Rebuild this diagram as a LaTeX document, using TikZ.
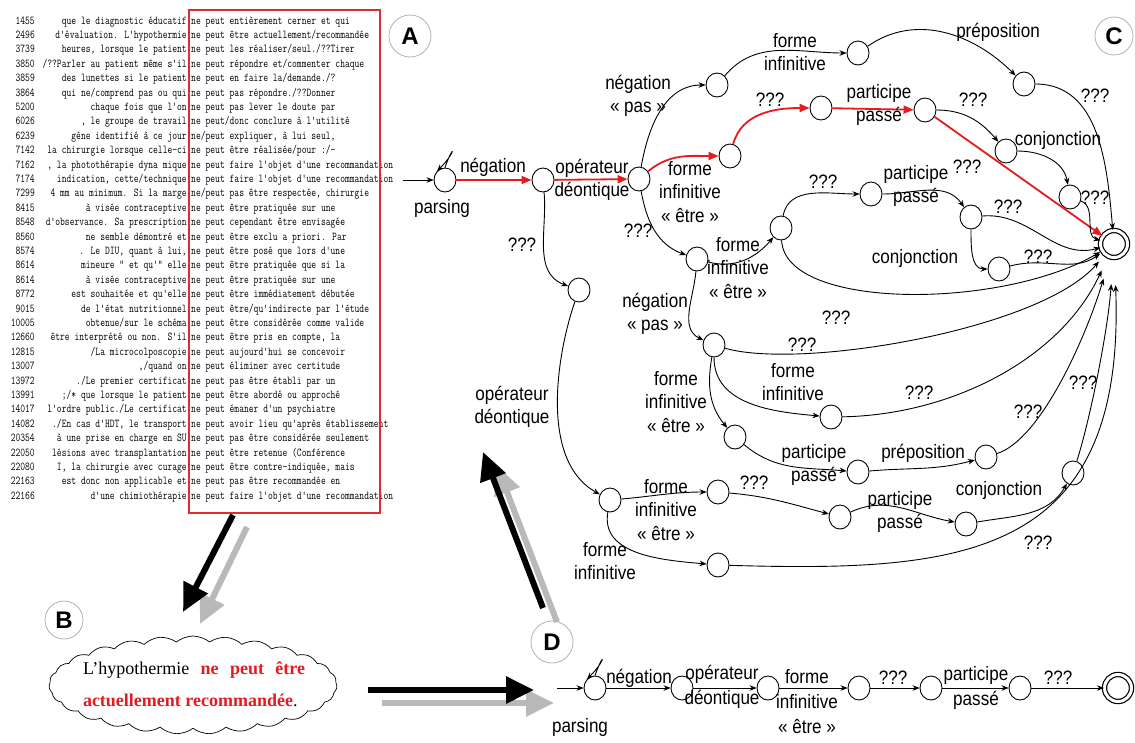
\documentclass[tikz,border=0pt]{standalone}
\usepackage{fontspec}
\setmainfont{Liberation Sans}
\newfontfamily\gfont[FakeStretch=0.88]{Liberation Sans}
\newfontfamily\cloudfont{Liberation Serif}
\usetikzlibrary{arrows.meta,shapes.geometric,shapes.symbols,calc}
\definecolor{cred}{RGB}{228,28,32}
\definecolor{boxred}{RGB}{222,45,50}
\definecolor{shadowgray}{RGB}{185,185,185}
\newcommand\concline[4]{%
  \node[conc, anchor=base east] (num#1) at (35,{-(24+14.4*(#1-1))}) {\scalebox{0.778}[1]{#2}};
  \node[conc, anchor=base east] (lc#1) at (187,{-(24+14.4*(#1-1))}) {\scalebox{0.778}[1]{#3}};
  \node[conc, anchor=base west] (rc#1) at (191,{-(24+14.4*(#1-1))}) {\scalebox{0.778}[1]{#4}};}
\tikzset{
  conc/.style={font=\ttfamily\fontsize{12}{14.4}\selectfont, inner sep=0pt},
  st/.style={ellipse, draw, line width=0.9pt, minimum width=22pt, minimum height=24pt, inner sep=0pt},
  fin/.style={circle, draw, double, double distance=3pt, line width=1.2pt, minimum size=27pt, inner sep=0pt},
  ed/.style={-{Stealth[length=7pt,width=5.5pt]}, line width=0.9pt},
  redge/.style={draw=cred, line width=1.8pt, -{Triangle[length=10pt,width=8pt]}},
  lab/.style={font=\gfont\fontsize{19.4}{23.5}\selectfont, align=center, inner sep=0pt},
  blab/.style={font=\gfont\fontsize{19.4}{25}\selectfont, align=center, inner sep=0pt},
  letter/.style={circle, draw=gray!60, line width=0.8pt, minimum size=40pt, inner sep=0pt, font=\bfseries\fontsize{24}{24}\selectfont},
  bigarrow/.style={line width=6pt, -{Triangle[length=28pt,width=26pt]}}
}
\begin{document}
\begin{tikzpicture}[x=1pt,y=1pt]
\useasboundingbox (0,0) rectangle (1135,-742);
\fill[white] (0,0) rectangle (1135,-742);

% ---------- concordance (A) ----------
\concline{1}{1455}{que le diagnostic éducatif}{ne peut entièrement cerner et qui}
\concline{2}{2496}{d'évaluation. L'hypothermie}{ne peut être actuellement/recommandée}
\concline{3}{3739}{heures, lorsque le patient}{ne peut les réaliser/seul./??Tirer}
\concline{4}{3850}{/??Parler au patient même s'il}{ne peut répondre et/commenter chaque}
\concline{5}{3859}{des lunettes si le patient}{ne peut en faire la/demande./?}
\concline{6}{3864}{qui ne/comprend pas ou qui}{ne peut pas répondre./??Donner}
\concline{7}{5200}{chaque fois que l'on}{ne peut pas lever le doute par}
\concline{8}{6026}{, le groupe de travail}{ne peut/donc conclure à l'utilité}
\concline{9}{6239}{gène identifié à ce jour}{ne/peut expliquer, à lui seul,}
\concline{10}{7142}{la chirurgie lorsque celle-ci}{ne peut être réalisée/pour :/-}
\concline{11}{7162}{, la photothérapie dyna mique}{ne peut faire l'objet d'une recommandation}
\concline{12}{7174}{indication, cette/technique}{ne peut faire l'objet d'une recommandation}
\concline{13}{7299}{4 mm au minimum. Si la marge}{ne/peut pas être respectée, chirurgie}
\concline{14}{8415}{à visée contraceptive}{ne peut être pratiquée sur une}
\concline{15}{8548}{d'observance. Sa prescription}{ne peut cependant être envisagée}
\concline{16}{8560}{ne semble démontré et}{ne peut être exclu a priori. Par}
\concline{17}{8574}{. Le DIU, quant à lui,}{ne peut être posé que lors d'une}
\concline{18}{8614}{mineure " et qu'" elle}{ne peut être pratiquée que si la}
\concline{19}{8614}{à visée contraceptive}{ne peut être pratiquée sur une}
\concline{20}{8772}{est souhaitée et qu'elle}{ne peut être immédiatement débutée}
\concline{21}{9015}{de l'état nutritionnel}{ne peut être/qu'indirecte par l'étude}
\concline{22}{10005}{obtenue/sur le schéma}{ne peut être considérée comme valide}
\concline{23}{12660}{être interprété ou non. S'il}{ne peut être pris en compte, la}
\concline{24}{12815}{/La microcolposcopie}{ne peut aujourd'hui se concevoir}
\concline{25}{13007}{,/quand on}{ne peut éliminer avec certitude}
\concline{26}{13972}{./Le premier certificat}{ne peut pas être établi par un}
\concline{27}{13991}{;/* que lorsque le patient}{ne peut être abordé ou approché}
\concline{28}{14017}{l'ordre public./Le certificat}{ne peut émaner d'un psychiatre}
\concline{29}{14082}{./En cas d'HDT, le transport}{ne peut avoir lieu qu'après établissement}
\concline{30}{20354}{à une prise en charge en SU}{ne peut pas être considérée seulement}
\concline{31}{22050}{lésions avec transplantation}{ne peut être retenue (Conférence}
\concline{32}{22080}{I, la chirurgie avec curage}{ne peut être contre-indiquée, mais}
\concline{33}{22163}{est donc non applicable et}{ne peut pas être recommandée en}
\concline{34}{22166}{d'une chimiothérapie}{ne peut faire l'objet d'une recommandation}
\node[draw=boxred, line width=1.6pt, minimum width=191pt, minimum height=503pt, inner sep=0pt] (cbox) at (284.5,-261.5) {};

% ---------- letters ----------
\node[letter, minimum size=42pt] (A) at (410,-36) {A};
\node[letter, minimum size=38pt] (C) at (1114,-36) {C};
\node[letter, minimum size=38pt] (B) at (64,-620) {B};
\node[letter, minimum size=42pt] (D) at (552,-642) {D};

% ---------- cloud (B) ----------
\node[cloud, draw, line width=0.7pt, cloud puffs=27, cloud puff arc=80, aspect=3.1, minimum width=288pt, minimum height=98pt, inner sep=0pt] (cl) at (193,-685) {};
\node[inner sep=0pt, align=left, font=\cloudfont\fontsize{18}{32}\selectfont] (ct) at (194,-684)
  {\hbox to 222pt{L’hypothermie\hfill\textcolor{cred}{\bfseries ne}\hfill\textcolor{cred}{\bfseries peut}\hfill\textcolor{cred}{\bfseries être}}\\
   \textcolor{cred}{\bfseries actuellement recommandée}.};

% ---------- big arrows ----------
\coordinate (a1s) at (233,-515); \coordinate (a1e) at (183,-612);
\coordinate (g1s) at (247,-527); \coordinate (g1e) at (200,-624);
\coordinate (a2s) at (543,-608); \coordinate (a2e) at (483,-452);
\coordinate (g2s) at (557,-622); \coordinate (g2e) at (497,-466);
\coordinate (a3s) at (368,-690); \coordinate (a3e) at (534,-690);
\coordinate (g3s) at (382,-703); \coordinate (g3e) at (554,-703);
\draw[bigarrow, draw=shadowgray] (g1s) -- (g1e);
\draw[bigarrow] (a1s) -- (a1e);
\draw[bigarrow, draw=shadowgray] (g2s) -- (g2e);
\draw[bigarrow] (a2s) -- (a2e);
\draw[bigarrow, draw=shadowgray] (g3s) -- (g3e);
\draw[bigarrow] (a3s) -- (a3e);

% ---------- graph C: states ----------
\node[st] (P) at (445,-180) {};
\node[st] (N1) at (543,-180) {};
\node[st] (N2) at (639,-179) {};
\node[st] (T1) at (717,-85) {};
\node[st] (T2) at (858,-53) {};
\node[st] (T3) at (1024,-84) {};
\node[st] (R1) at (730,-156) {};
\node[st] (R2) at (821,-108) {};
\node[st] (R3) at (925,-110) {};
\node[st] (R4) at (1006,-151) {};
\node[st] (R5) at (1070,-197) {};
\node[st] (M1) at (697,-259) {};
\node[st] (M2) at (781,-228) {};
\node[st] (M3) at (871,-194) {};
\node[st] (M4) at (971,-217) {};
\node[st] (M5) at (999,-269) {};
\node[st] (M6) at (714,-345) {};
\node[st] (M7) at (831,-417) {};
\node[st] (M8) at (735,-437) {};
\node[st] (M9) at (858,-472) {};
\node[st] (M10) at (986,-457) {};
\node[st] (M11) at (1073,-473) {};
\node[st] (L1) at (579,-290) {};
\node[st] (L2) at (610,-500) {};
\node[st] (L3) at (718,-492) {};
\node[st] (L4) at (840,-517) {};
\node[st] (L5) at (966,-524) {};
\node[st] (L6) at (718,-565) {};
\node[fin] (F) at (1114,-244) {};

% ---------- graph C: edges ----------
\coordinate (Pin) at (403,-180);
\draw[ed] (Pin) -- (P);
\draw[ed] (P.north) .. controls +(9,26) and +(20,20) .. (P.north west);
\draw[redge] (P) -- (N1);
\draw[redge] (N1) -- (N2);
\draw[ed] (N2) to[out=80,in=180] (T1);
\draw[redge] (N2) to[out=40,in=180] (R1);
\draw[ed] (N2) to[out=-80,in=160] (M1);
\draw[ed] (N1) to[out=-85,in=160] (L1);
\draw[ed] (T1) to[out=50,in=180] (T2);
\draw[ed] (T2) to[out=35,in=135] (T3);
\draw[ed] (T3) to[out=0,in=95] (F);
\draw[redge] (R1) to[out=75,in=180] (R2);
\draw[redge] (R2) -- (R3);
\draw[redge] (R3) -- (F);
\draw[ed] (R3) to[out=0,in=130] (R4);
\draw[ed] (R4) to[out=0,in=100] (R5);
\draw[ed] (R5) to[out=-20,in=165] (F);
\draw[ed] (M1) to[out=-15,in=-130] (M2);
\draw[ed] (M2) to[out=80,in=180] (M3);
\draw[ed, shorten >=2pt] (M2) .. controls (785,-310) and (1000,-310) .. (F);
\draw[ed] (M3) to[out=0,in=125] (M4);
\draw[ed] (M4) to[out=5,in=195] (F);
\draw[ed] (M4) to[out=-90,in=180] (M5);
\draw[ed, shorten >=3pt] (M5) to[out=15,in=215] (F);
\draw[ed] (M1) to[out=-95,in=155] (M6);
\draw[ed, shorten >=9pt] (M6) .. controls (800,-370) and (1040,-330) .. (F);
\draw[ed] (M6) to[out=-90,in=175] (M7);
\draw[ed, shorten >=15pt] (M7) .. controls (950,-415) and (1060,-360) .. (F);
\draw[ed] (M6) to[out=-100,in=130] (M8);
\draw[ed] (M8) to[out=-40,in=175] (M9);
\draw[ed] (M9) to[out=5,in=195] (M10);
\draw[ed, shorten >=22pt] (M10) .. controls (1040,-440) and (1085,-340) .. (F);
\draw[ed, shorten >=26pt] (M11) .. controls (1090,-420) and (1108,-330) .. (F);
\draw[ed] (L1) .. controls (558,-350) and (538,-460) .. (L2);
\draw[ed] (L2) to[out=5,in=180] (L3);
\draw[ed] (L3) to[out=-5,in=165] (L4);
\draw[ed] (L4) to[out=25,in=170] (L5);
\draw[ed] (L5) to[out=10,in=-120] (M11);
\draw[ed] (L2) to[out=-100,in=175] (L6);
\draw[ed, shorten >=27pt] (L6) .. controls (960,-572) and (1126,-560) .. (F);

% ---------- graph C: labels ----------
\node[lab] (lparse) at (442,-208) {parsing};
\node[lab] (l1) at (493,-167) {négation};
\node[lab] (l2) at (592,-180) {opérateur\\déontique};
\node[lab] (l3) at (638,-96) {négation\\« pas »};
\node[lab] (l4) at (690,-192) {forme\\infinitive\\« être »};
\node[lab] (l5) at (638,-231) {???};
\node[lab] (l6) at (522,-245) {???};
\node[lab] (l7) at (795,-52) {forme\\infinitive};
\node[lab] (l8) at (998,-32) {préposition};
\node[lab] (l9) at (1095,-96) {???};
\node[lab] (l10) at (770,-100) {???};
\node[lab] (l11) at (879,-105) {participe\\passé};
\node[lab] (l12) at (967,-167) {???};
\node[lab] (l13) at (973,-100) {???};
\node[lab] (l14) at (1058,-140) {conjonction};
\node[lab] (l15) at (1095,-198) {???};
\node[lab] (l16) at (738,-268) {forme\\infinitive\\« être »};
\node[lab] (l17) at (823,-182) {???};
\node[lab] (l18) at (916,-186) {participe\\passé};
\node[lab] (l19) at (1008,-207) {???};
\node[lab] (l20) at (915,-258) {conjonction};
\node[lab] (l21) at (1038,-257) {???};
\node[lab] (l22) at (836,-318) {???};
\node[lab] (l23) at (655,-314) {négation\\« pas »};
\node[lab] (l24) at (802,-345) {???};
\node[lab] (l25) at (793,-382) {forme\\infinitive};
\node[lab] (l26) at (919,-393) {???};
\node[lab] (l27) at (676,-402) {forme\\infinitive\\« être »};
\node[lab] (l28) at (1083,-383) {???};
\node[lab] (l29) at (1028,-412) {???};
\node[lab] (l30) at (814,-465) {participe\\passé};
\node[lab] (l31) at (923,-453) {préposition};
\node[lab] (l32) at (512,-407) {opérateur\\déontique};
\node[lab] (l33) at (666,-510) {forme\\infinitive\\« être »};
\node[lab] (l34) at (754,-483) {???};
\node[lab] (l35) at (900,-512) {participe\\passé};
\node[lab] (l36) at (999,-490) {conjonction};
\node[lab] (l37) at (605,-561) {forme\\infinitive};
\node[lab] (l38) at (1038,-543) {???};

% ---------- bottom automaton (D) ----------
\coordinate (Bin) at (557,-688);
\node[st] (BP) at (595,-688) {};
\node[st] (B1) at (682,-688) {};
\node[st] (B2) at (768,-688) {};
\node[st] (B3) at (859,-688) {};
\node[st] (B4) at (931,-688) {};
\node[st] (B5) at (1020,-688) {};
\node[fin] (BF) at (1118,-688) {};
\draw[ed] (Bin) -- (BP);
\draw[ed] (BP.north) .. controls +(9,26) and +(20,20) .. (BP.north west);
\draw[ed] (BP) -- (B1);
\draw[ed] (B1) -- (B2);
\draw[ed] (B2) -- (B3);
\draw[ed] (B3) -- (B4);
\draw[ed] (B4) -- (B5);
\draw[ed] (B5) -- (BF);
\node[blab] (bl0) at (580,-727) {parsing};
\node[blab] (bl1) at (639,-678) {négation};
\node[blab] (bl2) at (722,-687) {opérateur\\déontique};
\node[blab] (bl3) at (807,-702) {forme\\infinitive\\« être »};
\node[blab] (bl4) at (893,-678) {???};
\node[blab] (bl5) at (976,-688) {participe\\passé};
\node[blab] (bl6) at (1058,-678) {???};
\end{tikzpicture}
\end{document}
